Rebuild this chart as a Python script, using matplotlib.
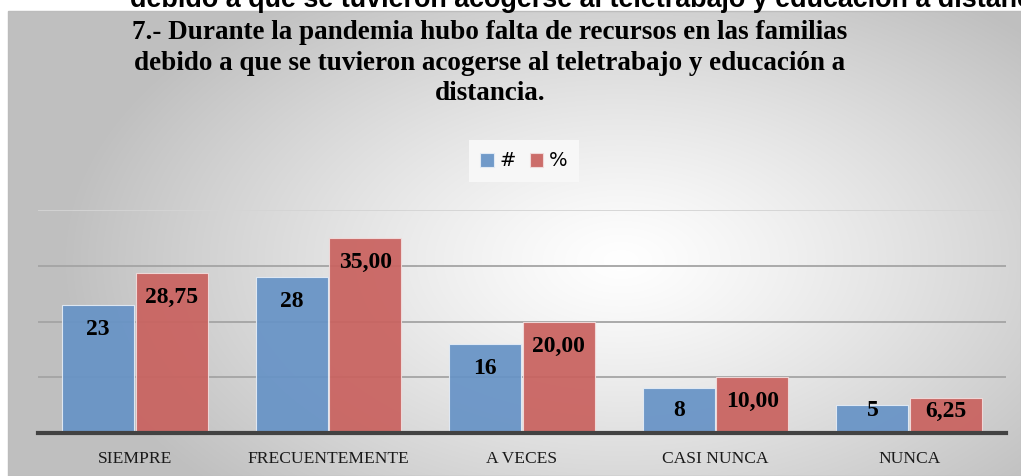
#!/usr/bin/env python3
# coding: utf-8

import numpy as np
import matplotlib
matplotlib.use('Agg')
import matplotlib.pyplot as plt
from matplotlib.patches import Rectangle

# data
categorias = ['SIEMPRE', 'FRECUENTEMENTE', 'A VECES', 'CASI NUNCA', 'NUNCA']
cantidad   = [23, 28, 16, 8, 5]
porcentaje = [28.75, 35.00, 20.00, 10.00, 6.25]
etiq_cant  = ['23', '28', '16', '8', '5']
etiq_porc  = ['28,75', '35,00', '20,00', '10,00', '6,25']
series     = ['#', '%']

titulo = ('7.- Durante la pandemia hubo falta de recursos en las familias\n'
          'debido a que se tuvieron acogerse al teletrabajo y educación a\n'
          'distancia.')
texto_cortado = 'debido a que se tuvieron acogerse al teletrabajo y educación a distancia.'

W, H = 1021, 476
azul = '#6793c6'
rojo = '#c9625f'
serif = 'Liberation Serif'

fig = plt.figure(figsize=(W/100, H/100), dpi=100)
fig.patch.set_facecolor('white')

# radial grey background of the chart box
bx0, by_top = 8, 11
bg = fig.add_axes([bx0/W, 0, 1 - bx0/W, 1 - by_top/H], zorder=-5)
xx, yy = np.meshgrid(np.arange(bx0, W), np.arange(by_top, H))
t = np.sqrt(((xx - 620)/560.)**2 + ((yy - 260)/330.)**2)
t = np.clip(t, 0, 1)
g = 1.0 - 0.25*t**1.2
bg.imshow(np.dstack([g, g, g]), aspect='auto', interpolation='bilinear',
          extent=[0, 1, 0, 1])
bg.set_axis_off()
fig.patches.append(Rectangle((bx0/W, 0), 1 - bx0/W, 1 - by_top/H,
                             transform=fig.transFigure, fill=False,
                             edgecolor='#bcbcbc', lw=1.0, zorder=-4))

# text cut off by the top edge, as in the original screenshot
fig.text(130/W, 1 - 7/H, texto_cortado, fontsize=19.4, fontweight='bold',
         family='Liberation Sans', va='baseline', ha='left', color='black')

# title
fig.text(490/W, 1 - 20/H, titulo, fontsize=19.5, fontweight='bold',
         family=serif, ha='center', va='top', multialignment='center',
         linespacing=1.3, color='black')

ax = fig.add_axes([38/W, 1 - 433/H, (1006 - 38)/W, (433 - 210)/H])
ax.set_facecolor('none')

x = np.arange(len(categorias))
w = 0.372
off = 0.19
b1 = ax.bar(x - off, cantidad, w, color=azul, alpha=0.93,
            edgecolor='#e4ecf6', linewidth=0.8, label=series[0], zorder=3)
b2 = ax.bar(x + off, porcentaje, w, color=rojo, alpha=0.93,
            edgecolor='#f2dcdc', linewidth=0.8, label=series[1], zorder=3)

# value labels inside the bar ends
for xs, vals, labs in [(x - off, cantidad, etiq_cant), (x + off, porcentaje, etiq_porc)]:
  for xi, v, lab in zip(xs, vals, labs):
    yl = max(v - 4.4, 3.95)
    ax.text(xi, yl, lab, ha='center', va='center', fontsize=17,
            fontweight='bold', family=serif, color='black', zorder=5)

ax.set_xlim(-0.5, len(categorias) - 0.5)
ax.set_ylim(0, 40)
ax.set_yticks([0, 10, 20, 30, 40])
ax.yaxis.grid(True, color='#a4a4a4', lw=1.3, zorder=1)
ax.set_axisbelow(True)
gl = ax.yaxis.get_gridlines()
gl[-1].set_color('#d4d4d4')
ax.tick_params(axis='y', length=0, labelleft=False)

ax.set_xticks(x)
ax.set_xticklabels(categorias, family=serif, fontsize=12.6, color='#1a1a1a')
ax.tick_params(axis='x', length=0, pad=13)

for s in ['left', 'right', 'top']:
  ax.spines[s].set_visible(False)
ax.spines['bottom'].set_color('#424242')
ax.spines['bottom'].set_linewidth(3.0)
ax.spines['bottom'].set_zorder(6)

leg = fig.legend(handles=[b1, b2], loc='center', bbox_to_anchor=(524/W, 1 - 161/H),
                 ncol=2, frameon=True, fancybox=False, facecolor='#f7f7f7',
                 edgecolor='none', framealpha=1, handlelength=0.7, handleheight=0.7,
                 handletextpad=0.3, columnspacing=0.7, borderpad=0.6,
                 prop={'family': 'DejaVu Sans', 'size': 14})

plt.savefig('out.png', dpi=100)
